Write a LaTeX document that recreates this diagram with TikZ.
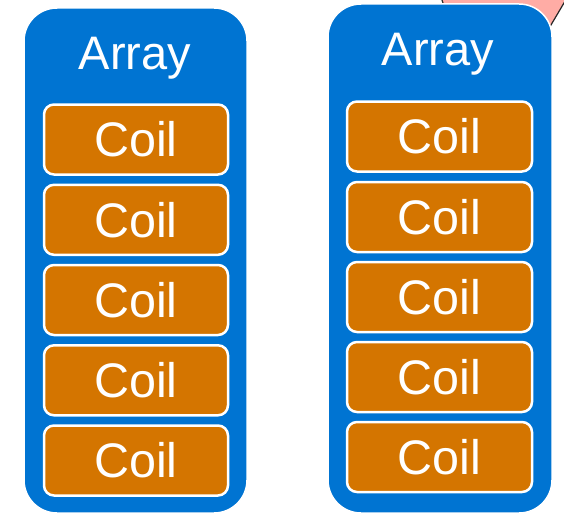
\documentclass[tikz,border=0pt]{standalone}
\usepackage{fontspec}
\setmainfont{Liberation Sans}
\definecolor{arrayblue}{RGB}{0,116,210}
\definecolor{coilorange}{RGB}{212,117,0}
\definecolor{tagpink}{RGB}{255,172,165}
\tikzset{
  arraybox/.style={rectangle, rounded corners=33pt, fill=arrayblue, draw=white,
    line width=1.5pt, inner sep=0pt, outer sep=0pt},
  arraytitle/.style={text=white, font=\fontsize{47}{52}\selectfont, anchor=base,
    inner sep=0pt},
  coilbox/.style={rectangle, rounded corners=10pt, fill=coilorange, draw=white,
    line width=2.5pt, inner sep=0pt, outer sep=0pt, text=white,
    font=\fontsize{48.5}{52}\selectfont}
}
\begin{document}
\begin{tikzpicture}[x=1pt, y=-1pt]
  \useasboundingbox (0,0) rectangle (564,519);
  % partly hidden pink tag behind the right array
  \begin{scope}
    \clip (0,0) rectangle (564,519);
    \draw[fill=tagpink, draw=black!85, line width=1.2pt]
      (438,-12) -- (452,30) -- (548,30) -- (574,-14) -- cycle;
  \end{scope}

  % left array
  \node[arraybox, minimum width=223pt, minimum height=505pt] (arrL) at (135.5,260.5) {};
  \node[arraytitle] (titleL) at (135,69) {Array};
  \node[coilbox, minimum width=184pt, minimum height=70pt] (cL1) at (136,139.5) {Coil};
  \node[coilbox, minimum width=184pt, minimum height=70pt] (cL2) at (136,219.8) {Coil};
  \node[coilbox, minimum width=184pt, minimum height=70pt] (cL3) at (136,300.0) {Coil};
  \node[coilbox, minimum width=184pt, minimum height=70pt] (cL4) at (136,380.3) {Coil};
  \node[coilbox, minimum width=184pt, minimum height=70pt] (cL5) at (136,460.5) {Coil};

  % right array
  \node[arraybox, minimum width=224pt, minimum height=509pt] (arrR) at (440,258.5) {};
  \node[arraytitle] (titleR) at (438,66) {Array};
  \node[coilbox, minimum width=185pt, minimum height=70pt] (cR1) at (439.5,136.5) {Coil};
  \node[coilbox, minimum width=185pt, minimum height=70pt] (cR2) at (439.5,217) {Coil};
  \node[coilbox, minimum width=185pt, minimum height=70pt] (cR3) at (439.5,297) {Coil};
  \node[coilbox, minimum width=185pt, minimum height=70pt] (cR4) at (439.5,377) {Coil};
  \node[coilbox, minimum width=185pt, minimum height=70pt] (cR5) at (439.5,457) {Coil};
\end{tikzpicture}
\end{document}
